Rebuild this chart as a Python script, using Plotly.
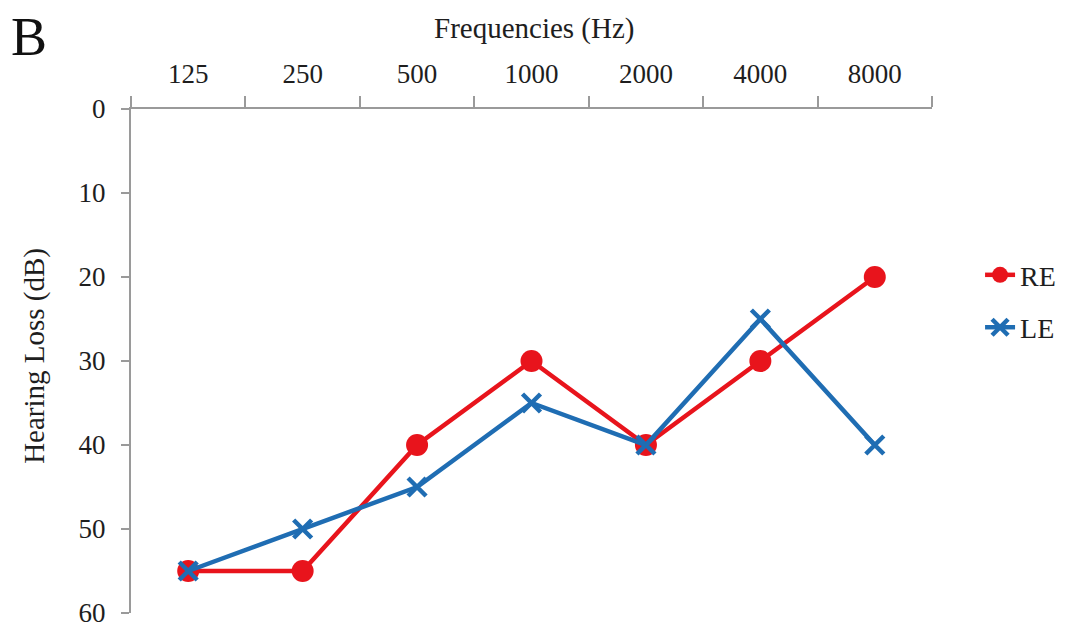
import plotly.graph_objects as go

freqs = ["125", "250", "500", "1000", "2000", "4000", "8000"]
re_vals = [55, 55, 40, 30, 40, 30, 20]
le_vals = [55, 50, 45, 35, 40, 25, 40]
y_ticks = [0, 10, 20, 30, 40, 50, 60]

FONT = "Liberation Serif"
AX = "#9a9a9a"
TXT = "#1e1e1e"

fig = go.Figure()
fig.add_trace(go.Scatter(x=freqs, y=re_vals, name="RE", mode="lines+markers", legendgroup="re",
                         line=dict(color="#e8141c", width=4.5),
                         marker=dict(symbol="circle", size=22, color="#e8141c")))
fig.add_trace(go.Scatter(x=freqs, y=le_vals, name="LE", mode="lines+markers", legendgroup="le",
                         line=dict(color="#1f6db3", width=4.5),
                         marker=dict(symbol="x-thin", size=18, color="#1f6db3",
                                     line=dict(color="#1f6db3", width=4.5))))

fig.update_layout(
    width=1068, height=627,
    margin=dict(l=123, r=144, t=101, b=22, autoexpand=False),
    paper_bgcolor="white", plot_bgcolor="white",
    font=dict(family=FONT, size=26, color=TXT),
    showlegend=True,
    legend=dict(x=1.06, y=0.72, xanchor="left", yanchor="top",
                font=dict(family=FONT, size=28, color=TXT),
                tracegroupgap=13, bgcolor="rgba(0,0,0,0)"),
    xaxis=dict(side="top", type="category", categoryorder="array", categoryarray=freqs,
               range=[-0.5, len(freqs) - 0.5],
               showline=True, linecolor=AX, linewidth=2, automargin=False,
               ticks="outside", tickson="boundaries", ticklen=11, tickcolor=AX, tickwidth=1.5,
               ticklabelstandoff=13,
               showgrid=False, zeroline=False,
               tickfont=dict(family=FONT, size=27, color=TXT)),
    yaxis=dict(range=[60, 0], tickvals=y_ticks, showline=True, linecolor=AX, linewidth=2,
               automargin=False,
               ticks="outside", ticklen=8, tickcolor=AX, tickwidth=1.5, ticklabelstandoff=10,
               showgrid=False, zeroline=False,
               tickfont=dict(family=FONT, size=27, color=TXT)),
)
fig.add_annotation(text="Frequencies (Hz)", xref="paper", yref="paper", x=0.504, y=1.159,
                   xanchor="center", yanchor="middle", showarrow=False,
                   font=dict(family=FONT, size=29, color=TXT))
fig.add_annotation(text="Hearing Loss (dB)", xref="paper", yref="paper", x=-0.12, y=0.51,
                   xanchor="center", yanchor="middle", showarrow=False, textangle=-90,
                   font=dict(family=FONT, size=29, color=TXT))
fig.add_annotation(text="B", xref="paper", yref="paper", x=-0.127, y=1.143,
                   xanchor="center", yanchor="middle", showarrow=False,
                   font=dict(family=FONT, size=54, color="#111"))
fig.write_html("out.html")
